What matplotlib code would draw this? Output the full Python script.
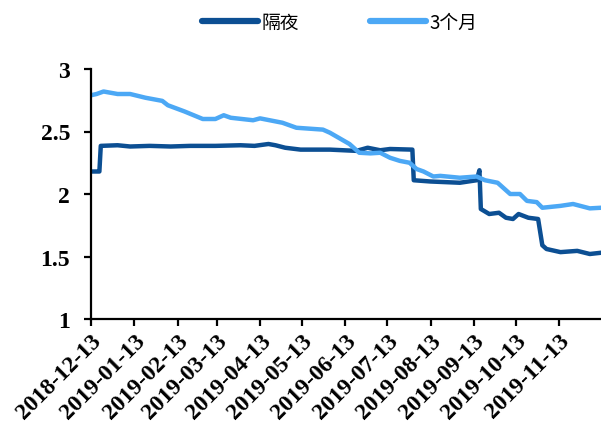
import matplotlib
matplotlib.use("Agg")
import matplotlib.pyplot as plt
import pandas as pd

on_dates = ["2018-12-13", "2018-12-17", "2018-12-19", "2018-12-20", "2019-01-01", "2019-01-10",
            "2019-01-24", "2019-02-08", "2019-02-22", "2019-03-12", "2019-03-30", "2019-04-09",
            "2019-04-19", "2019-04-24", "2019-05-01", "2019-05-12", "2019-06-02", "2019-06-21",
            "2019-06-29", "2019-07-08", "2019-07-15", "2019-07-31", "2019-08-01", "2019-08-13",
            "2019-09-03", "2019-09-15", "2019-09-17", "2019-09-18", "2019-09-24", "2019-10-01",
            "2019-10-06", "2019-10-11", "2019-10-15", "2019-10-22", "2019-10-29", "2019-11-01",
            "2019-11-04", "2019-11-14", "2019-11-26", "2019-12-05", "2019-12-13"]
on_vals = [2.18, 2.18, 2.18, 2.385, 2.39, 2.38,
           2.385, 2.38, 2.385, 2.385, 2.39, 2.385,
           2.40, 2.39, 2.37, 2.355, 2.355, 2.345,
           2.37, 2.35, 2.36, 2.355, 2.11, 2.10,
           2.09, 2.11, 2.19, 1.88, 1.84, 1.85,
           1.81, 1.80, 1.84, 1.81, 1.80, 1.59,
           1.56, 1.535, 1.545, 1.52, 1.53]

m3_dates = ["2018-12-13", "2018-12-17", "2018-12-22", "2019-01-01", "2019-01-10", "2019-01-21",
            "2019-02-02", "2019-02-06", "2019-02-18", "2019-03-03", "2019-03-12", "2019-03-18",
            "2019-03-23", "2019-04-08", "2019-04-13", "2019-04-29", "2019-05-09", "2019-05-28",
            "2019-06-02", "2019-06-09", "2019-06-16", "2019-06-23", "2019-07-01", "2019-07-08",
            "2019-07-15", "2019-07-22", "2019-07-29", "2019-08-03", "2019-08-08", "2019-08-15",
            "2019-08-20", "2019-09-03", "2019-09-15", "2019-09-21", "2019-09-30", "2019-10-09",
            "2019-10-16", "2019-10-21", "2019-10-28", "2019-11-01", "2019-11-14", "2019-11-23",
            "2019-12-05", "2019-12-13"]
m3_vals = [2.79, 2.80, 2.82, 2.80, 2.80, 2.77,
           2.745, 2.71, 2.66, 2.60, 2.60, 2.63,
           2.61, 2.59, 2.605, 2.57, 2.53, 2.515,
           2.49, 2.445, 2.40, 2.33, 2.325, 2.33,
           2.29, 2.265, 2.25, 2.20, 2.18, 2.14,
           2.145, 2.13, 2.14, 2.11, 2.09, 2.00,
           2.00, 1.945, 1.935, 1.89, 1.905, 1.92,
           1.885, 1.89]

series_names = ["隔夜", "3个月"]
tick_dates = ["2018-12-13", "2019-01-13", "2019-02-13", "2019-03-13", "2019-04-13", "2019-05-13",
              "2019-06-13", "2019-07-13", "2019-08-13", "2019-09-13", "2019-10-13", "2019-11-13"]
y_ticks = [1, 1.5, 2, 2.5, 3]
y_labels = ["1", "1.5", "2", "2.5", "3"]

fig = plt.figure(figsize=(6.01, 4.27), dpi=100)
ax = fig.add_axes([91/601, 1-320/427, 1-91/601, (320-70)/427])

ax.plot(pd.to_datetime(on_dates), on_vals, color="#0C4F93", lw=3.2, label=series_names[0],
        solid_joinstyle="round", solid_capstyle="round")
ax.plot(pd.to_datetime(m3_dates), m3_vals, color="#4CA8F5", lw=3.2, label=series_names[1],
        solid_joinstyle="round", solid_capstyle="round")
ax.set_xlim(pd.Timestamp("2018-12-13"), pd.Timestamp("2019-12-13"))
ax.set_ylim(1, 3)
ax.set_yticks(y_ticks)
ax.set_yticklabels(y_labels)
ax.set_xticks(pd.to_datetime(tick_dates))
ax.set_xticklabels(tick_dates, rotation=45, ha="right", rotation_mode="anchor")

for sp in ["top", "right"]:
    ax.spines[sp].set_visible(False)
for sp in ["left", "bottom"]:
    ax.spines[sp].set_linewidth(1.6)
    ax.spines[sp].set_color("black")
ax.tick_params(axis="both", direction="out", length=5, width=1.6, colors="black")
ax.tick_params(axis="y", pad=10)
ax.tick_params(axis="x", pad=3)
for lab in ax.get_xticklabels() + ax.get_yticklabels():
    lab.set_fontfamily("Liberation Serif")
    lab.set_fontweight("bold")
for lab in ax.get_yticklabels():
    lab.set_fontsize(17)
for lab in ax.get_xticklabels():
    lab.set_fontsize(17)

leg = fig.legend(loc="center", bbox_to_anchor=(0.565, 0.946), ncol=2, frameon=False,
                 prop={"family": ["Noto Sans CJK SC", "DejaVu Sans"], "size": 13.5},
                 handlelength=3.0, handletextpad=0.15, columnspacing=3.8)
for h in leg.get_lines():
    h.set_linewidth(4.5)

fig.savefig("out.png", dpi=100)
